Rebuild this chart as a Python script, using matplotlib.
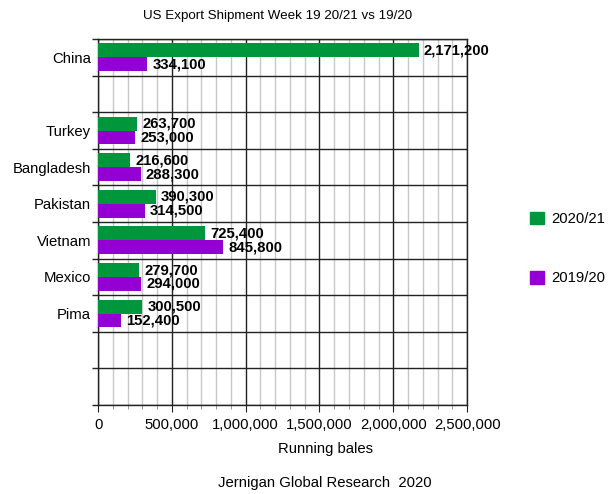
import matplotlib
matplotlib.use("Agg")
import matplotlib.pyplot as plt
from matplotlib.patches import Patch
from matplotlib.ticker import MultipleLocator, FuncFormatter

plt.rcParams['font.family'] = ['Liberation Sans', 'DejaVu Sans']

# Rows from top to bottom; empty strings are spacer rows
categories = ["China", "", "Turkey", "Bangladesh", "Pakistan", "Vietnam", "Mexico", "Pima", "", ""]
season_2020_21 = [2171200, None, 263700, 216600, 390300, 725400, 279700, 300500, None, None]
season_2019_20 = [334100, None, 253000, 288300, 314500, 845800, 294000, 152400, None, None]
series_labels = ["2020/21", "2019/20"]
colors = ["#00963c", "#9400d3"]

title = "US Export Shipment Week 19 20/21 vs 19/20"
xlabel = "Running bales"
footer = "Jernigan Global Research  2020"

fs = 10.7

fig = plt.figure(figsize=(6.13, 4.94), dpi=100)
ax = fig.add_axes([0.160, 0.180, 0.602, 0.741])

bar_h = 0.38
for i, (a, b) in enumerate(zip(season_2020_21, season_2019_20)):
    if a is not None:
        ax.barh(i - bar_h / 2, a, height=bar_h, color=colors[0], zorder=3)
        ax.text(a + 35000, i - bar_h / 2, f"{a:,}", va="center", ha="left",
                fontsize=fs, fontweight="bold", zorder=4)
    if b is not None:
        ax.barh(i + bar_h / 2, b, height=bar_h, color=colors[1], zorder=3)
        ax.text(b + 35000, i + bar_h / 2, f"{b:,}", va="center", ha="left",
                fontsize=fs, fontweight="bold", zorder=4)

n = len(categories)
ax.set_ylim(n - 0.5, -0.5)
ax.set_xlim(0, 2500000)

ax.set_yticks(range(n))
ax.set_yticklabels(categories, fontsize=fs)
ax.set_yticks([k + 0.5 for k in range(-1, n)], minor=True)
ax.tick_params(axis="y", which="major", length=0, pad=5)
ax.tick_params(axis="y", which="minor", length=4, color="#222222", width=1)

ax.xaxis.set_major_locator(MultipleLocator(500000))
ax.xaxis.set_minor_locator(MultipleLocator(100000))
ax.xaxis.set_major_formatter(FuncFormatter(lambda v, p: f"{int(v):,}"))
ax.tick_params(axis="x", which="major", length=5, color="#222222", labelsize=fs, pad=4)
ax.tick_params(axis="x", which="minor", length=3, color="#888888")

ax.grid(axis="x", which="minor", color="#c8c8c8", linewidth=1, zorder=0)
ax.grid(axis="x", which="major", color="#222222", linewidth=1, zorder=1)
ax.grid(axis="y", which="minor", color="#222222", linewidth=1, zorder=1)
ax.set_axisbelow(True)
for s in ax.spines.values():
    s.set_color("#222222")
    s.set_linewidth(1)

ax.set_xlabel(xlabel, fontsize=fs)
ax.xaxis.set_label_coords(0.615, -0.100)

fig.text(0.452, 0.968, title, ha="center", va="center", fontsize=9.6)
fig.text(0.530, 0.022, footer, ha="center", va="center", fontsize=fs)

handles = [Patch(facecolor=c, edgecolor=c) for c in colors]
fig.legend(handles, series_labels, loc="center left", bbox_to_anchor=(0.865, 0.497),
           frameon=False, fontsize=fs, handlelength=0.95, handleheight=0.95,
           labelspacing=3.0, handletextpad=0.45, borderpad=0, borderaxespad=0)

fig.savefig("out.png", dpi=100)
